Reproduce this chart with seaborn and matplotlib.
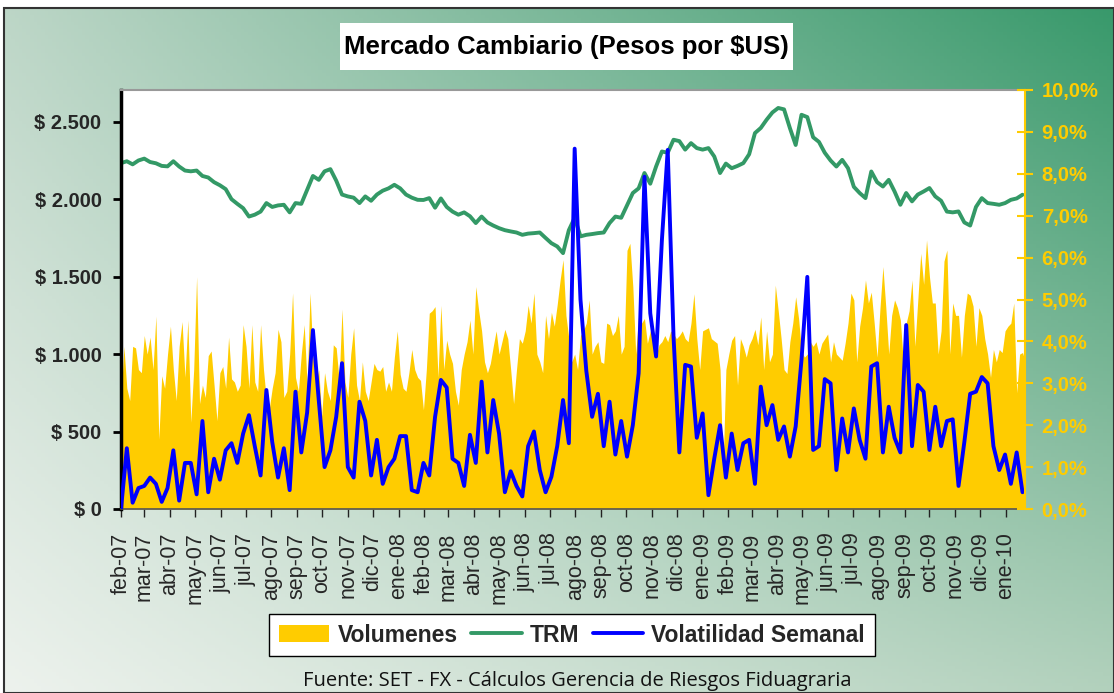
import numpy as np
import pandas as pd
import matplotlib
matplotlib.use('Agg')
import matplotlib.pyplot as plt
import matplotlib.dates as mdates
from matplotlib.ticker import FuncFormatter, FixedLocator
from matplotlib.patches import Rectangle, Patch
from matplotlib.lines import Line2D
import seaborn as sns

# ---------------------------------------------------------
# Datos (feb-07 a ene-10)
# ---------------------------------------------------------
# TRM semanal (pesos por dolar)
trm = [2233, 2245, 2225, 2250, 2262, 2240, 2232, 2215, 2212, 2245,
       2211, 2185, 2180, 2185, 2150, 2140, 2110, 2090, 2065, 2000,
       1970, 1942, 1888, 1900, 1920, 1975, 1950, 1960, 1964, 1915,
       1975, 1970, 2060, 2150, 2125, 2180, 2194, 2120, 2030, 2018,
       2010, 1975, 2018, 1990, 2030, 2055, 2070, 2093, 2070, 2030,
       2010, 1996, 1995, 2007, 1945, 2005, 1950, 1920, 1900, 1915,
       1890, 1846, 1888, 1850, 1830, 1813, 1800, 1792, 1785, 1770,
       1778, 1781, 1785, 1750, 1716, 1695, 1652, 1800, 1880, 1760,
       1770, 1775, 1781, 1785, 1846, 1888, 1880, 1960, 2040, 2070,
       2169, 2100, 2211, 2308, 2300, 2384, 2375, 2320, 2362, 2330,
       2320, 2330, 2276, 2169, 2230, 2200, 2215, 2233, 2290, 2427,
       2460, 2513, 2560, 2589, 2580, 2460, 2350, 2545, 2530, 2400,
       2370, 2300, 2250, 2211, 2254, 2200, 2080, 2040, 2007, 2179,
       2110, 2082, 2125, 2050, 1964, 2040, 1986, 2030, 2050, 2072,
       2018, 1990, 1920, 1915, 1921, 1850, 1830, 1950, 2007, 1975,
       1970, 1964, 1975, 1996, 2005, 2029]

# Volatilidad semanal (%)
volatilidad = [0.0, 1.45, 0.15, 0.5, 0.55, 0.75, 0.6, 0.17, 0.5, 1.4,
               0.2, 1.1, 1.1, 0.35, 2.1, 0.4, 1.2, 0.7, 1.4, 1.57,
               1.1, 1.8, 2.24, 1.5, 0.8, 2.84, 1.6, 0.75, 1.45, 0.45,
               2.8, 1.35, 2.3, 4.27, 2.6, 1.0, 1.4, 2.2, 3.48, 1.0,
               0.75, 2.56, 2.1, 0.8, 1.65, 0.6, 1.0, 1.2, 1.74, 1.74,
               0.45, 0.4, 1.1, 0.8, 2.2, 3.08, 2.9, 1.2, 1.1, 0.55,
               1.77, 1.1, 3.04, 1.35, 2.6, 1.8, 0.4, 0.9, 0.55, 0.3,
               1.5, 1.85, 0.93, 0.4, 0.77, 1.5, 2.6, 1.57, 8.6, 5.0,
               3.3, 2.2, 2.75, 1.5, 2.56, 1.3, 2.1, 1.25, 2.0, 3.24,
               7.93, 4.67, 3.64, 6.42, 8.57, 4.11, 1.35, 3.44, 3.4, 1.7,
               2.28, 0.33, 1.2, 2.0, 0.75, 1.8, 0.93, 1.57, 1.65, 0.6,
               2.92, 2.0, 2.48, 1.65, 1.97, 1.25, 1.97, 3.56, 5.54, 1.41,
               1.5, 3.1, 3.0, 0.93, 2.16, 1.35, 2.4, 1.65, 1.2, 3.4,
               3.48, 1.35, 2.44, 1.7, 1.35, 4.39, 1.5, 2.96, 2.8, 1.41,
               2.44, 1.5, 2.1, 2.14, 0.55, 1.6, 2.75, 2.8, 3.15, 3.0,
               1.5, 0.93, 1.3, 0.6, 1.35, 0.4]

# Volumenes negociados (dos lecturas por semana)
volumenes = [700, 1050, 780, 700, 1050, 1040, 900, 880, 1120, 1000,
             1110, 900, 1245, 450, 860, 780, 1000, 1180, 900, 700,
             1050, 1210, 850, 1220, 560, 900, 1500, 680, 800, 720,
             990, 1020, 800, 570, 880, 920, 780, 1110, 840, 820,
             760, 800, 1190, 1050, 780, 1190, 820, 760, 1190, 900,
             700, 650, 780, 880, 1160, 1080, 720, 760, 1000, 1395,
             850, 760, 1000, 1190, 800, 1395, 990, 800, 900, 600,
             880, 760, 700, 1060, 1040, 830, 1290, 820, 720, 1000,
             1170, 800, 700, 950, 760, 700, 820, 940, 900, 890,
             920, 760, 820, 760, 980, 1150, 870, 780, 760, 880,
             1030, 900, 850, 830, 640, 900, 1264, 1280, 1307, 850,
             1315, 900, 1090, 1000, 940, 760, 670, 900, 1000, 1080,
             1220, 1000, 1436, 1280, 1150, 950, 880, 940, 1050, 1150,
             1000, 1080, 1160, 1100, 900, 680, 900, 1100, 1070, 1150,
             1315, 1200, 1394, 1000, 950, 880, 1250, 1100, 1270, 1180,
             1320, 1479, 1610, 1250, 1100, 950, 1000, 900, 1120, 1150,
             1200, 1350, 1000, 1050, 1080, 950, 940, 1200, 1190, 1120,
             1150, 1250, 1000, 1050, 1670, 1715, 1436, 1000, 1250, 1200,
             1230, 1070, 1150, 1130, 990, 1060, 1080, 1120, 1080, 1150,
             1130, 1100, 1120, 1150, 1100, 1080, 1200, 1390, 1100, 900,
             1150, 1160, 1170, 1100, 1085, 1070, 900, 250, 900, 1000,
             1090, 1120, 800, 1100, 1050, 980, 1060, 1100, 1160, 1060,
             1240, 900, 1150, 950, 1000, 1445, 1280, 1100, 900, 875,
             1080, 1200, 1370, 1230, 1020, 980, 1000, 1080, 1050, 1080,
             1000, 1070, 1100, 1130, 950, 1080, 1000, 980, 960, 1070,
             1200, 1394, 1350, 950, 1180, 1300, 1479, 1330, 1400, 1200,
             980, 1300, 1565, 1300, 1000, 1250, 1350, 1300, 1220, 950,
             1200, 1280, 1479, 1050, 1350, 1651, 1450, 1737, 1500, 1330,
             1330, 1000, 1150, 1600, 1672, 1000, 1330, 1250, 1250, 980,
             1250, 1394, 1380, 1310, 1050, 1300, 1250, 1100, 1000, 850,
             1030, 950, 1030, 1010, 1150, 1180, 1200, 1330, 750, 1000,
             1010, 950]

meses = ['ene', 'feb', 'mar', 'abr', 'may', 'jun',
         'jul', 'ago', 'sep', 'oct', 'nov', 'dic']

df_sem = pd.DataFrame({
    'fecha': pd.date_range('2007-02-01', periods=len(trm), freq='7D'),
    'TRM': trm,
    'Volatilidad': volatilidad,
})
df_vol = pd.DataFrame({
    'fecha': pd.date_range('2007-02-01', periods=len(volumenes), freq='84h'),
    'Volumenes': volumenes,
})

# ---------------------------------------------------------
# Figura
# ---------------------------------------------------------
sns.set_theme(style='white')
plt.rcParams['font.family'] = ['Liberation Sans', 'DejaVu Sans']

W, H = 1114, 693
fig = plt.figure(figsize=(W / 100, H / 100), dpi=100)
fig.patch.set_facecolor('white')

# fondo degradado verde
bg = fig.add_axes([4 / W, 0, 1 - 4 / W, 1 - 8 / H], zorder=-10)
u, v = np.meshgrid(np.linspace(0, 1, 300), np.linspace(1, 0, 200))
tl = np.array([0.74, 0.84, 0.78])
tr = np.array([0.22, 0.60, 0.42])
bl = np.array([0.93, 0.95, 0.93])
br = np.array([0.70, 0.82, 0.74])
grad = ((1 - u)[..., None] * v[..., None] * tl + u[..., None] * v[..., None] * tr
        + (1 - u)[..., None] * (1 - v)[..., None] * bl + u[..., None] * (1 - v)[..., None] * br)
bg.imshow(grad, extent=[0, 1, 0, 1], aspect='auto')
bg.set_xlim(0, 1)
bg.set_ylim(0, 1)
bg.axis('off')
bg.add_patch(Rectangle((0, 0), 1, 1, fill=False, edgecolor='#333333', lw=1.5,
                       transform=bg.transAxes, clip_on=False))

# area del grafico
ax = fig.add_axes([121 / W, 1 - 509 / H, (1025 - 121) / W, (509 - 90) / H])
ax.set_facecolor('white')
ax.fill_between(df_vol['fecha'], df_vol['Volumenes'], color='#FFCC00', lw=0)
sns.lineplot(data=df_sem, x='fecha', y='TRM', ax=ax, color='#339966', lw=2.8)

ax2 = ax.twinx()
sns.lineplot(data=df_sem, x='fecha', y='Volatilidad', ax=ax2, color='#0000FF', lw=2.8)

ax.set_xlim(pd.Timestamp('2007-02-01'), pd.Timestamp('2010-01-24'))
ax.set_ylim(0, 2705)
ax2.set_ylim(0, 10)
for a in (ax, ax2):
    a.set_xlabel('')
    a.set_ylabel('')

# eje x: meses
ax.xaxis.set_major_locator(mdates.MonthLocator())
ax.xaxis.set_major_formatter(FuncFormatter(
    lambda x, pos: f"{meses[mdates.num2date(x).month - 1]}-{mdates.num2date(x).year % 100:02d}"))
ax.tick_params(axis='x', bottom=True, length=6, width=1, color='#222222',
               labelrotation=90, labelsize=15.5, pad=11)

# eje izquierdo: pesos
ax.yaxis.set_major_locator(FixedLocator([0, 500, 1000, 1500, 2000, 2500]))
ax.yaxis.set_major_formatter(FuncFormatter(lambda v, pos: '$ ' + f"{int(v):,}".replace(',', '.')))
ax.tick_params(axis='y', left=True, length=6, width=2, color='black', labelsize=14.5, pad=8)
for lab in ax.get_yticklabels():
    lab.set_fontweight('bold')

# eje derecho: porcentaje
ax2.yaxis.set_major_locator(FixedLocator(np.arange(0, 11, 1)))
ax2.yaxis.set_major_formatter(FuncFormatter(lambda v, pos: f"{v:.1f}%".replace('.', ',')))
ax2.tick_params(axis='y', right=True, direction='inout', length=12, width=1.5,
                color='#FFCC00', labelcolor='#FFCC00', labelsize=14.5, pad=6)
for lab in ax2.get_yticklabels():
    lab.set_fontweight('bold')

ax.spines['left'].set_color('black')
ax.spines['left'].set_linewidth(2.5)
ax.spines['bottom'].set_color('#555555')
ax.spines['bottom'].set_linewidth(1.2)
ax.spines['top'].set_color('#999999')
ax.spines['top'].set_linewidth(1.5)
ax2.spines['right'].set_color('#FFCC00')
ax2.spines['right'].set_linewidth(1.5)
ax2.spines['left'].set_visible(False)
ax2.spines['top'].set_visible(False)
ax2.spines['bottom'].set_visible(False)
ax.spines['right'].set_visible(False)

# titulo en caja blanca
fig.patches.append(Rectangle((340 / W, 1 - 70 / H), (793 - 340) / W, 47 / H,
                             transform=fig.transFigure, facecolor='white', edgecolor='none'))
fig.text(566 / W, 1 - 47 / H, 'Mercado Cambiario (Pesos por $US)', ha='center', va='center',
         fontsize=18.5, fontweight='bold', color='black')

# leyenda
handles = [Patch(facecolor='#FFCC00', edgecolor='none'),
           Line2D([], [], color='#339966', lw=2.8),
           Line2D([], [], color='#0000FF', lw=2.8)]
leg = fig.legend(handles, ['Volumenes', 'TRM', 'Volatilidad Semanal'], ncol=3,
                 loc='center', bbox_to_anchor=(572 / W, 1 - 635 / H),
                 frameon=True, fancybox=False, edgecolor='black', framealpha=1,
                 prop={'weight': 'bold', 'size': 16.5}, handlelength=2.2, handleheight=0.75,
                 handletextpad=0.35, columnspacing=0.6, borderpad=0.42)
leg.get_frame().set_linewidth(1.0)

# fuente
fig.text(577 / W, 1 - 681 / H, 'Fuente: SET - FX - Cálculos Gerencia de Riesgos Fiduagraria',
         ha='center', va='center', fontsize=14.5, family=['Open Sans', 'DejaVu Sans'], color='#111111')

fig.savefig('out.png', dpi=100)
